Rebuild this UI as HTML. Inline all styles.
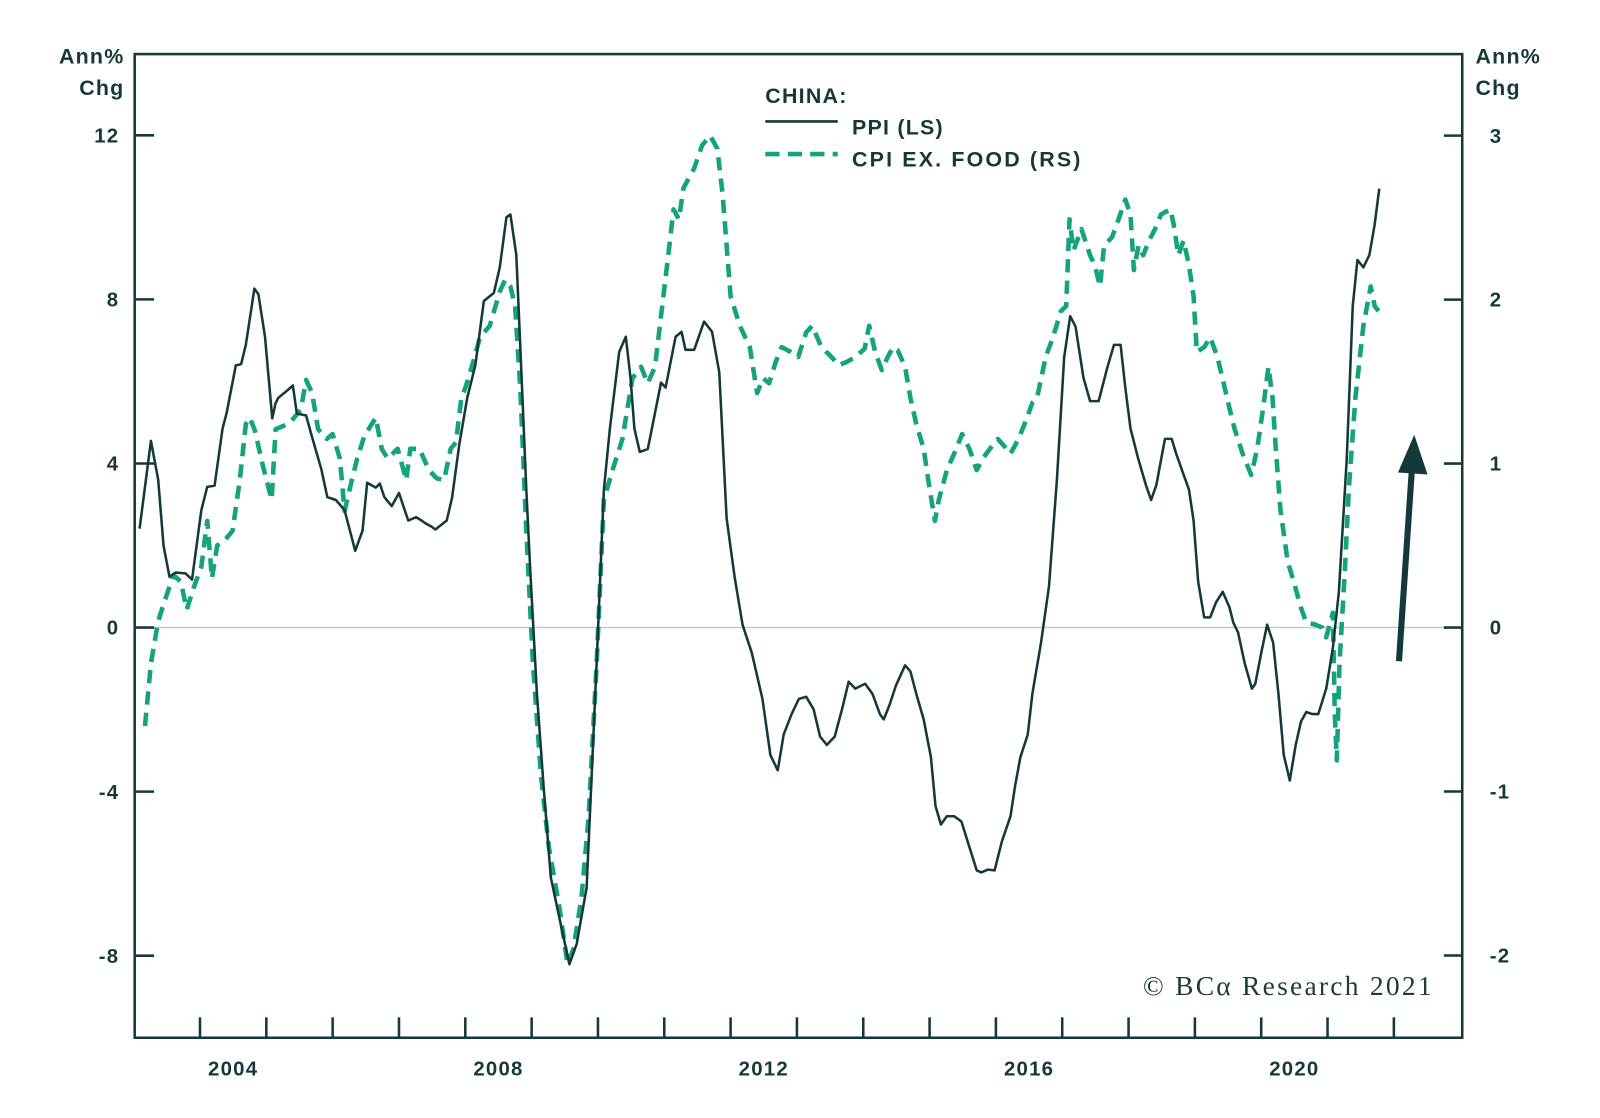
<!DOCTYPE html>
<html><head><meta charset="utf-8"><style>
html,body{margin:0;padding:0;background:#fff;}
svg{display:block;}
text{font-family:"Liberation Sans",Arial,sans-serif;font-weight:bold;fill:#15393a;}
.lg{letter-spacing:1.2px;}
</style></head><body>
<svg id="chart" width="1600" height="1118" viewBox="0 0 1600 1118" xmlns="http://www.w3.org/2000/svg">
<g transform="scale(1.0204)">
<g id="axes"></g>
<g id="series"></g>
<g>
<text class="lg" x="750" y="101" font-size="21">CHINA:</text>
<line x1="750" y1="119" x2="821" y2="119" stroke="#15393a" stroke-width="2.5"/>
<text class="lg" x="835" y="132" font-size="21">PPI (LS)</text>
<line x1="750" y1="151" x2="821" y2="151" stroke="#14a37a" stroke-width="4.5" stroke-dasharray="14,8"/>
<text class="lg" x="835" y="163" font-size="21" textLength="225" lengthAdjust="spacing">CPI EX. FOOD (RS)</text>
</g>
<text class="lg" x="122" y="62" font-size="21" text-anchor="end">Ann%</text>
<text class="lg" x="122" y="93" font-size="21" text-anchor="end">Chg</text>
<text class="lg" x="1446" y="62" font-size="21">Ann%</text>
<text class="lg" x="1446" y="93" font-size="21">Chg</text>
<text x="1403" y="975" font-size="27" text-anchor="end" textLength="283" lengthAdjust="spacing" style="font-family:'Liberation Serif',serif;font-weight:normal;fill:#1d3b3b">© BCα Research 2021</text>
<g>
<line x1="1371" y1="648" x2="1384" y2="455" stroke="#15393a" stroke-width="6"/>
<polygon points="1386,426 1399,465 1370,463" fill="#15393a"/>
</g>
</g>
</svg>
<script>
const leftTicks=[12,8,4,0,-4,-8];
const rightTicks=[3,2,1,0,-1,-2];
const yearLabels=[2004,2008,2012,2016,2020];
const ppiDates=[2003.09,2003.26,2003.37,2003.45,2003.54,2003.63,2003.78,2003.88,2004.02,2004.11,2004.22,2004.34,2004.40,2004.54,2004.62,2004.69,2004.82,2004.88,2004.98,2005.09,2005.14,2005.18,2005.31,2005.40,2005.46,2005.60,2005.68,2005.83,2005.92,2006.05,2006.18,2006.34,2006.45,2006.52,2006.65,2006.71,2006.78,2006.89,2007.00,2007.06,2007.14,2007.26,2007.34,2007.40,2007.49,2007.55,2007.72,2007.80,2007.91,2008.03,2008.15,2008.28,2008.43,2008.52,2008.62,2008.68,2008.77,2008.83,2008.92,2008.98,2009.08,2009.18,2009.29,2009.42,2009.57,2009.68,2009.83,2009.98,2010.09,2010.18,2010.32,2010.42,2010.49,2010.55,2010.63,2010.75,2010.83,2010.95,2011.02,2011.17,2011.26,2011.32,2011.45,2011.60,2011.72,2011.83,2011.94,2012.06,2012.18,2012.32,2012.48,2012.60,2012.71,2012.80,2012.92,2013.03,2013.14,2013.25,2013.35,2013.45,2013.57,2013.68,2013.78,2013.88,2013.94,2014.03,2014.14,2014.25,2014.31,2014.40,2014.49,2014.63,2014.71,2014.80,2014.91,2015.02,2015.09,2015.17,2015.26,2015.37,2015.48,2015.60,2015.71,2015.78,2015.88,2015.98,2016.09,2016.22,2016.29,2016.37,2016.48,2016.55,2016.68,2016.80,2016.92,2017.03,2017.12,2017.20,2017.32,2017.42,2017.55,2017.68,2017.78,2017.88,2017.95,2018.03,2018.14,2018.26,2018.34,2018.42,2018.49,2018.55,2018.65,2018.72,2018.83,2018.91,2018.98,2019.05,2019.14,2019.23,2019.32,2019.42,2019.52,2019.58,2019.65,2019.75,2019.86,2019.91,2020.00,2020.09,2020.18,2020.26,2020.34,2020.43,2020.52,2020.60,2020.68,2020.77,2020.86,2020.98,2021.08,2021.17,2021.29,2021.38,2021.45,2021.54,2021.63,2021.71,2021.78];
const ppiValues=[2.41,4.55,3.61,1.99,1.24,1.34,1.32,1.17,2.86,3.43,3.46,4.85,5.22,6.39,6.42,6.89,8.26,8.13,7.09,5.10,5.47,5.60,5.77,5.90,5.22,5.17,4.70,3.86,3.18,3.11,2.86,1.87,2.36,3.53,3.41,3.51,3.18,2.96,3.28,2.99,2.61,2.69,2.61,2.54,2.46,2.39,2.61,3.16,4.48,5.60,6.39,7.96,8.16,8.78,10.00,10.07,9.08,6.84,3.36,1.37,-1.62,-3.86,-6.09,-7.09,-8.21,-7.71,-6.34,-0.87,3.36,4.85,6.72,7.09,6.09,4.85,4.28,4.35,4.98,5.97,5.85,7.09,7.21,6.77,6.77,7.46,7.21,6.22,2.66,1.24,0.07,-0.62,-1.74,-3.11,-3.48,-2.61,-2.11,-1.74,-1.69,-1.99,-2.66,-2.86,-2.66,-1.99,-1.32,-1.49,-1.44,-1.37,-1.62,-2.11,-2.24,-1.87,-1.42,-0.92,-1.07,-1.62,-2.24,-3.16,-4.35,-4.80,-4.60,-4.60,-4.73,-5.35,-5.92,-5.97,-5.90,-5.92,-5.22,-4.60,-3.86,-3.16,-2.61,-1.62,-0.37,1.00,3.61,6.59,7.59,7.34,6.09,5.52,5.52,6.34,6.89,6.89,5.85,4.85,4.15,3.48,3.11,3.48,4.10,4.60,4.60,4.23,3.73,3.36,2.61,1.12,0.25,0.25,0.62,0.87,0.50,0.12,-0.12,-0.87,-1.49,-1.37,-0.62,0.07,-0.37,-1.62,-3.11,-3.73,-2.86,-2.29,-2.06,-2.11,-2.11,-1.49,-0.50,0.87,4.10,7.84,8.96,8.78,9.08,9.83,10.70];
const cpiDates=[2003.17,2003.26,2003.37,2003.49,2003.60,2003.71,2003.80,2003.91,2004.02,2004.11,2004.18,2004.26,2004.37,2004.49,2004.60,2004.69,2004.75,2004.83,2004.94,2005.08,2005.14,2005.26,2005.38,2005.52,2005.60,2005.69,2005.78,2005.91,2006.00,2006.11,2006.18,2006.29,2006.37,2006.48,2006.65,2006.74,2006.83,2006.98,2007.11,2007.17,2007.31,2007.45,2007.57,2007.68,2007.78,2007.86,2007.94,2008.00,2008.12,2008.22,2008.37,2008.52,2008.60,2008.68,2008.75,2008.83,2008.92,2009.02,2009.14,2009.26,2009.42,2009.54,2009.63,2009.75,2009.86,2009.98,2010.09,2010.22,2010.37,2010.52,2010.65,2010.75,2010.86,2010.95,2011.06,2011.14,2011.22,2011.29,2011.45,2011.57,2011.69,2011.80,2011.88,2012.00,2012.14,2012.29,2012.40,2012.49,2012.58,2012.68,2012.77,2012.91,2013.02,2013.14,2013.23,2013.37,2013.52,2013.63,2013.75,2013.88,2014.02,2014.09,2014.18,2014.28,2014.37,2014.45,2014.52,2014.63,2014.71,2014.80,2014.91,2014.98,2015.08,2015.14,2015.26,2015.37,2015.49,2015.60,2015.71,2015.80,2015.91,2016.03,2016.14,2016.22,2016.34,2016.45,2016.55,2016.62,2016.75,2016.86,2016.98,2017.06,2017.11,2017.17,2017.29,2017.42,2017.49,2017.57,2017.63,2017.75,2017.85,2017.95,2018.03,2018.08,2018.15,2018.22,2018.31,2018.40,2018.49,2018.63,2018.68,2018.75,2018.83,2018.91,2018.98,2019.03,2019.14,2019.23,2019.34,2019.45,2019.52,2019.60,2019.72,2019.85,2019.94,2020.03,2020.11,2020.17,2020.22,2020.29,2020.40,2020.49,2020.60,2020.68,2020.80,2020.92,2020.98,2021.08,2021.11,2021.14,2021.18,2021.26,2021.32,2021.42,2021.54,2021.65,2021.71,2021.77];
const cpiValues=[-0.60,-0.22,0.04,0.19,0.32,0.28,0.11,0.25,0.37,0.65,0.30,0.50,0.53,0.59,0.90,1.24,1.28,1.20,1.00,0.78,1.21,1.23,1.26,1.33,1.51,1.43,1.21,1.15,1.18,1.03,0.71,0.90,1.03,1.17,1.28,1.09,1.03,1.09,0.90,1.09,1.09,0.96,0.91,0.90,1.09,1.13,1.40,1.46,1.62,1.77,1.84,2.05,2.12,2.08,1.96,1.46,0.59,-0.22,-0.90,-1.34,-1.71,-2.05,-1.96,-1.65,-1.15,-0.22,0.78,0.96,1.15,1.52,1.59,1.49,1.59,1.90,2.27,2.55,2.49,2.68,2.80,2.94,3.00,2.92,2.64,2.02,1.84,1.71,1.43,1.52,1.49,1.62,1.71,1.68,1.65,1.80,1.84,1.71,1.65,1.60,1.62,1.65,1.70,1.84,1.68,1.57,1.65,1.71,1.69,1.59,1.40,1.24,1.09,0.90,0.65,0.78,0.96,1.06,1.18,1.09,0.96,1.03,1.09,1.15,1.10,1.06,1.15,1.26,1.37,1.40,1.65,1.77,1.93,1.96,2.49,2.30,2.43,2.27,2.21,2.08,2.33,2.38,2.49,2.61,2.52,2.18,2.33,2.27,2.36,2.43,2.52,2.55,2.46,2.27,2.36,2.21,2.02,1.68,1.71,1.77,1.65,1.46,1.34,1.21,1.06,0.93,1.09,1.34,1.59,1.40,1.09,0.72,0.40,0.28,0.12,0.03,0.02,0.00,-0.06,0.09,-0.53,-0.81,-0.22,0.34,0.84,1.40,1.84,2.08,1.96,1.93];

const NS='http://www.w3.org/2000/svg';
const L=132,R=1433,T=53,B=1017;
const xScale=d=>196+(d-2004)*65;
const yLeft=v=>615-v*40.2;
const yRight=v=>615-v*160.7;
const axes=document.getElementById('axes');
const series=document.getElementById('series');
function mk(tag,attrs,parent){const e=document.createElementNS(NS,tag);for(const k in attrs)e.setAttribute(k,attrs[k]);parent.appendChild(e);return e;}

const zero=mk('line',{x1:L,x2:R,y1:yLeft(0),y2:yLeft(0),stroke:'#c4c9c9','stroke-width':1.5},axes);


const frame=mk('rect',{x:L,y:T,width:R-L,height:B-T,fill:'none',stroke:'#15393a','stroke-width':2.5},axes);



leftTicks.forEach(v=>{
  const y=yLeft(v);
  const t=mk('line',{x1:L,x2:L+19,y1:y,y2:y,stroke:'#15393a','stroke-width':2.5},axes);
  
  
  const tx=mk('text',{x:117,y:y+7,'font-size':20,'text-anchor':'end','class':'lg'},axes);
  tx.textContent=v;
  
  
});
rightTicks.forEach(v=>{
  const y=yRight(v);
  const t=mk('line',{x1:R-18,x2:R,y1:y,y2:y,stroke:'#15393a','stroke-width':2.5},axes);
  
  
  const tx=mk('text',{x:1460,y:y+7,'font-size':20,'class':'lg'},axes);
  tx.textContent=v;
  
  
});
for(let yr=2004;yr<=2022;yr++){
  const x=xScale(yr);
  const t=mk('line',{x1:x,x2:x,y1:B,y2:B-20,stroke:'#15393a','stroke-width':2.5},axes);
  
  
}
yearLabels.forEach(yr=>{
  const tx=mk('text',{x:xScale(yr+0.5),y:1054,'font-size':20,'text-anchor':'middle','class':'lg'},axes);
  tx.textContent=yr;
  
  
});

const cpiPts=cpiDates.map((d,i)=>xScale(d).toFixed(1)+','+yRight(cpiValues[i]).toFixed(1)).join(' ');
const cpi=mk('polyline',{points:cpiPts,fill:'none',stroke:'#14a37a','stroke-width':4.5,'stroke-dasharray':'13,8','stroke-linejoin':'round'},series);


const ppiPts=ppiDates.map((d,i)=>xScale(d).toFixed(1)+','+yLeft(ppiValues[i]).toFixed(1)).join(' ');
const ppi=mk('polyline',{points:ppiPts,fill:'none',stroke:'#15393a','stroke-width':2.5,'stroke-linejoin':'round'},series);


</script>
</body></html>
